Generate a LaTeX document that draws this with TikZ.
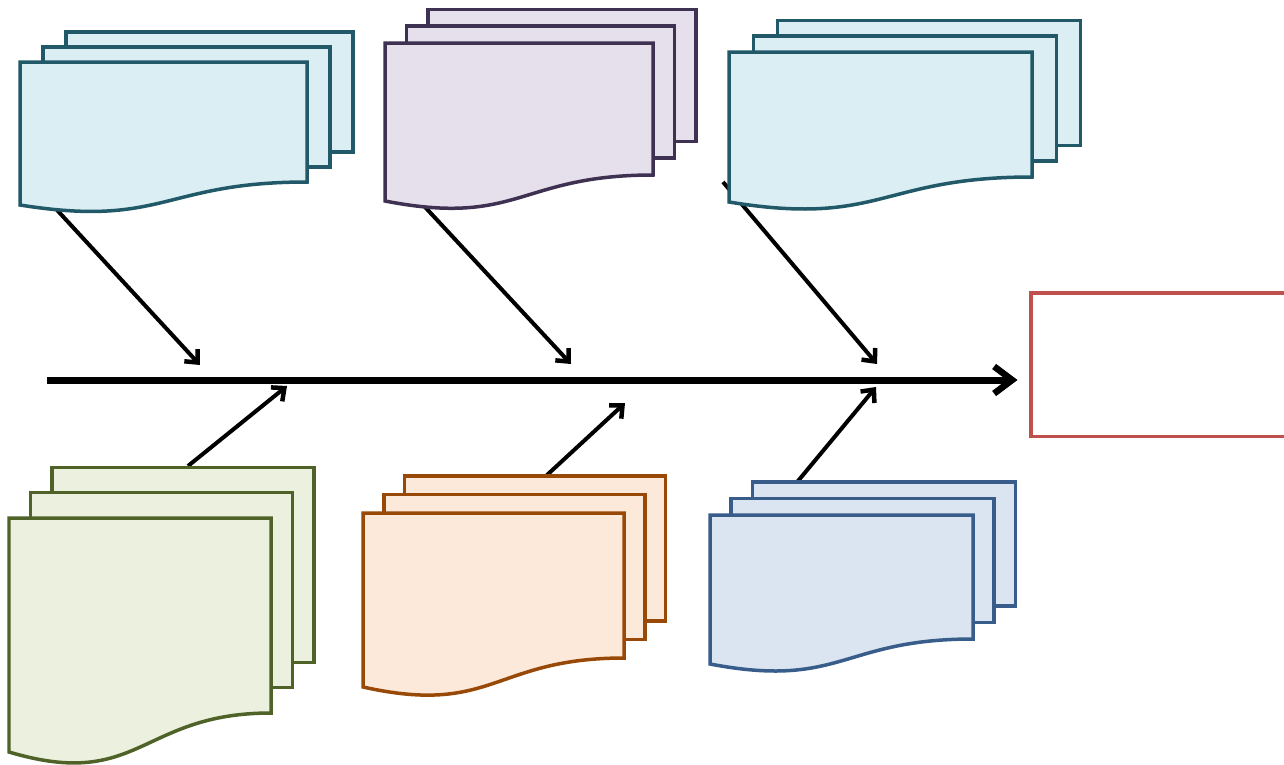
\documentclass[tikz,border=0pt]{standalone}
\usetikzlibrary{arrows.meta}
\definecolor{tealS}{HTML}{215968}\definecolor{tealF}{HTML}{DAEEF3}
\definecolor{purS}{HTML}{3F3151}\definecolor{purF}{HTML}{E5E0EC}
\definecolor{grnS}{HTML}{4F6228}\definecolor{grnF}{HTML}{EBF1DE}
\definecolor{orgS}{HTML}{984807}\definecolor{orgF}{HTML}{FDE9D9}
\definecolor{bluS}{HTML}{385D8A}\definecolor{bluF}{HTML}{DBE5F1}
\definecolor{redS}{HTML}{C0504D}
\tikzset{
  pagebase/.style={line width=0.07cm, line join=miter},
  pgteal/.style={pagebase, draw=tealS, fill=tealF},
  pgpur/.style={pagebase, draw=purS, fill=purF},
  pggrn/.style={pagebase, draw=grnS, fill=grnF},
  pgorg/.style={pagebase, draw=orgS, fill=orgF},
  pgblu/.style={pagebase, draw=bluS, fill=bluF},
  bone/.style={line width=0.08cm, -{Straight Barb[length=0.2cm, width=0.36cm, line width=0.09cm]}},
  spine/.style={line width=0.14cm, -{Straight Barb[length=0.36cm, width=0.54cm, line width=0.13cm]}},
  effectbox/.style={draw=redS, fill=white, line width=0.07cm, inner sep=0pt,
    minimum width=5.6cm, minimum height=2.88cm, anchor=north west}
}
% multidocument: style, x0, top, x1, right-bottom y, left-bottom y, dx, dy
\newcommand\mdoc[8]{%
  \path[#1] ({#2+2*#7},{#3-2*#8}) rectangle ({#4+2*#7},{#5-2*#8});
  \path[#1] ({#2+#7},{#3-#8}) rectangle ({#4+#7},{#5-#8});
  \path[#1] (#2,#6) .. controls ({(#2+#4)/2},{2*#6-#5}) and ({(#2+#4)/2},#5) .. (#4,#5)
     -- (#4,#3) -- (#2,#3) -- cycle;
}
\begin{document}
\begin{tikzpicture}[x=0.02cm, y=-0.02cm]
\useasboundingbox (0,0) rectangle (1284,764);
\clip (0,0) rectangle (1284,764);
\fill[white] (0,0) rectangle (1284,764);

% effect box
\node[effectbox] (effect) at (1029,291) {};

% coordinates of bones
\coordinate (s1) at (57,210);  \coordinate (t1) at (200,365);
\coordinate (s2) at (425,207); \coordinate (t2) at (571,364);
\coordinate (s3) at (723,182); \coordinate (t3) at (877,364);
\coordinate (s4) at (188,466); \coordinate (t4) at (287,386);
\coordinate (s5) at (547,475); \coordinate (t5) at (625,403);
\coordinate (s6) at (798,481); \coordinate (t6) at (876,387);
\coordinate (spinestart) at (47,380);

% spine
\draw[spine] (spinestart) -- ([xshift=-0.23cm]spinestart -| effect.west);

% bones
\foreach \i in {1,...,6} { \draw[bone] (s\i) -- (t\i); }

% document stacks
\mdoc{pgteal}{20}{62}{307}{182}{205}{23}{15}
\mdoc{pgpur}{385}{43}{653}{175}{201}{21.5}{16.8}
\mdoc{pgteal}{729}{52}{1032}{177}{202}{24.3}{15.8}
\mdoc{pggrn}{9}{518}{271}{713}{752}{21.5}{25.3}
\mdoc{pgorg}{363}{513}{624}{658}{687}{20.8}{18.4}
\mdoc{pgblu}{710}{515}{973}{639}{664}{21.2}{16.6}
\end{tikzpicture}
\end{document}
